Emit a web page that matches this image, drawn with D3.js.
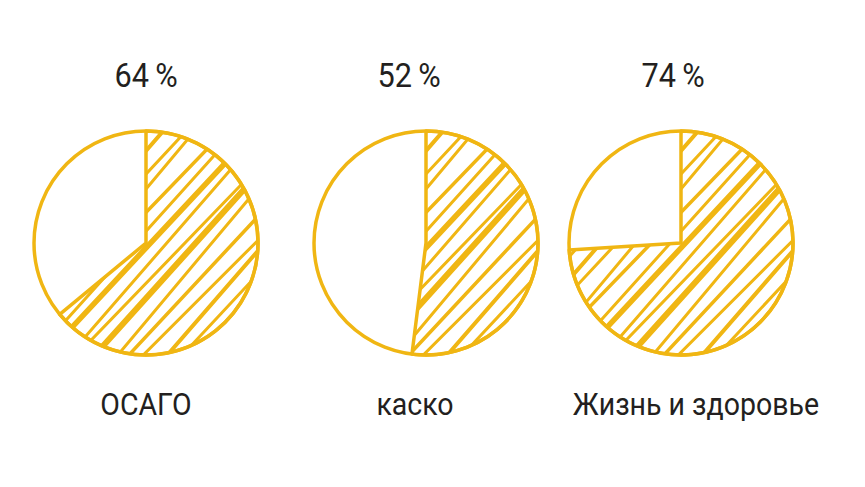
<!DOCTYPE html>
<html>
<head>
<meta charset="utf-8">
<script src="https://cdn.jsdelivr.net/npm/d3@7"></script>
<style>
  html, body { margin: 0; padding: 0; background: #fff; }
  svg text { font-family: Roboto, "Liberation Sans", sans-serif; fill: #231f20; }
</style>
</head>
<body>
<div id="chart"></div>
<script>
// data
var categories = ['ОСАГО', 'каско', 'Жизнь и здоровье'];
var shares = [64, 52, 74];
var shareLabels = ['64\u2009%', '52\u2009%', '74\u2009%'];

// layout
var width = 865, height = 487;
var centersX = [146, 426, 681];
var centerY = 243;
var radius = 112;
var pctShift = [0, -17, -8];
var nameShift = [0, -11, 15];
var yellow = '#f0b613';

// hand drawn hatching: offset (in radius units), angle (deg), stroke width
var hatch = [
  [-1.02, 47, 3], [-0.90, 49, 3], [-0.78, 46, 3.5], [-0.66, 48, 3],
  [-0.54, 49, 4], [-0.42, 47, 3], [-0.31, 50, 3], [-0.19, 46, 3.5],
  [-0.07, 48, 3], [0.03, 47, 5.5], [0.14, 49, 3], [0.25, 46, 3],
  [0.33, 48, 6], [0.45, 50, 3], [0.57, 47, 3.5], [0.69, 45, 3],
  [0.80, 49, 4], [0.92, 47, 3], [1.02, 50, 5]
];

var svg = d3.select('#chart')
  .append('svg')
    .attr('width', width)
    .attr('height', height);

var pie = d3.pie().sort(null).value(function(d){ return d; });
var arc = d3.arc().innerRadius(0).outerRadius(radius);

function end(h, s){
  var a = h[1] * Math.PI / 180;
  return [h[0] * radius * Math.sin(a) + s * 1.3 * radius * Math.cos(a),
          h[0] * radius * Math.cos(a) - s * 1.3 * radius * Math.sin(a)];
}

categories.forEach(function(name, i){
  var slices = pie([shares[i], 100 - shares[i]]);
  var g = svg.append('g')
    .attr('transform', 'translate(' + centersX[i] + ',' + centerY + ')');

  g.append('clipPath')
      .attr('id', 'clip' + i)
    .append('path')
      .attr('d', arc(slices[0]));

  g.append('g')
      .attr('clip-path', 'url(#clip' + i + ')')
    .selectAll('line')
    .data(hatch)
    .enter().append('line')
      .attr('x1', function(h){ return end(h, -1)[0]; })
      .attr('y1', function(h){ return end(h, -1)[1]; })
      .attr('x2', function(h){ return end(h, 1)[0]; })
      .attr('y2', function(h){ return end(h, 1)[1]; })
      .attr('stroke', yellow)
      .attr('stroke-width', function(h){ return h[2]; })
      .attr('stroke-linecap', 'round');

  g.append('path')
    .attr('d', arc(slices[0]))
    .attr('fill', 'none')
    .attr('stroke', yellow)
    .attr('stroke-width', 3.5)
    .attr('stroke-linejoin', 'round');

  g.append('circle')
    .attr('r', radius)
    .attr('fill', 'none')
    .attr('stroke', yellow)
    .attr('stroke-width', 3.5);

  g.append('text')
    .attr('transform', 'translate(' + pctShift[i] + ',' + (87 - centerY) + ') scale(0.93,1)')
    .attr('text-anchor', 'middle')
    .style('font-size', '33px')
    .text(shareLabels[i]);

  g.append('text')
    .attr('transform', 'translate(' + nameShift[i] + ',' + (415 - centerY) + ') scale(0.92,1)')
    .attr('text-anchor', 'middle')
    .style('font-size', '31px')
    .text(name);
});
</script>
</body>
</html>
